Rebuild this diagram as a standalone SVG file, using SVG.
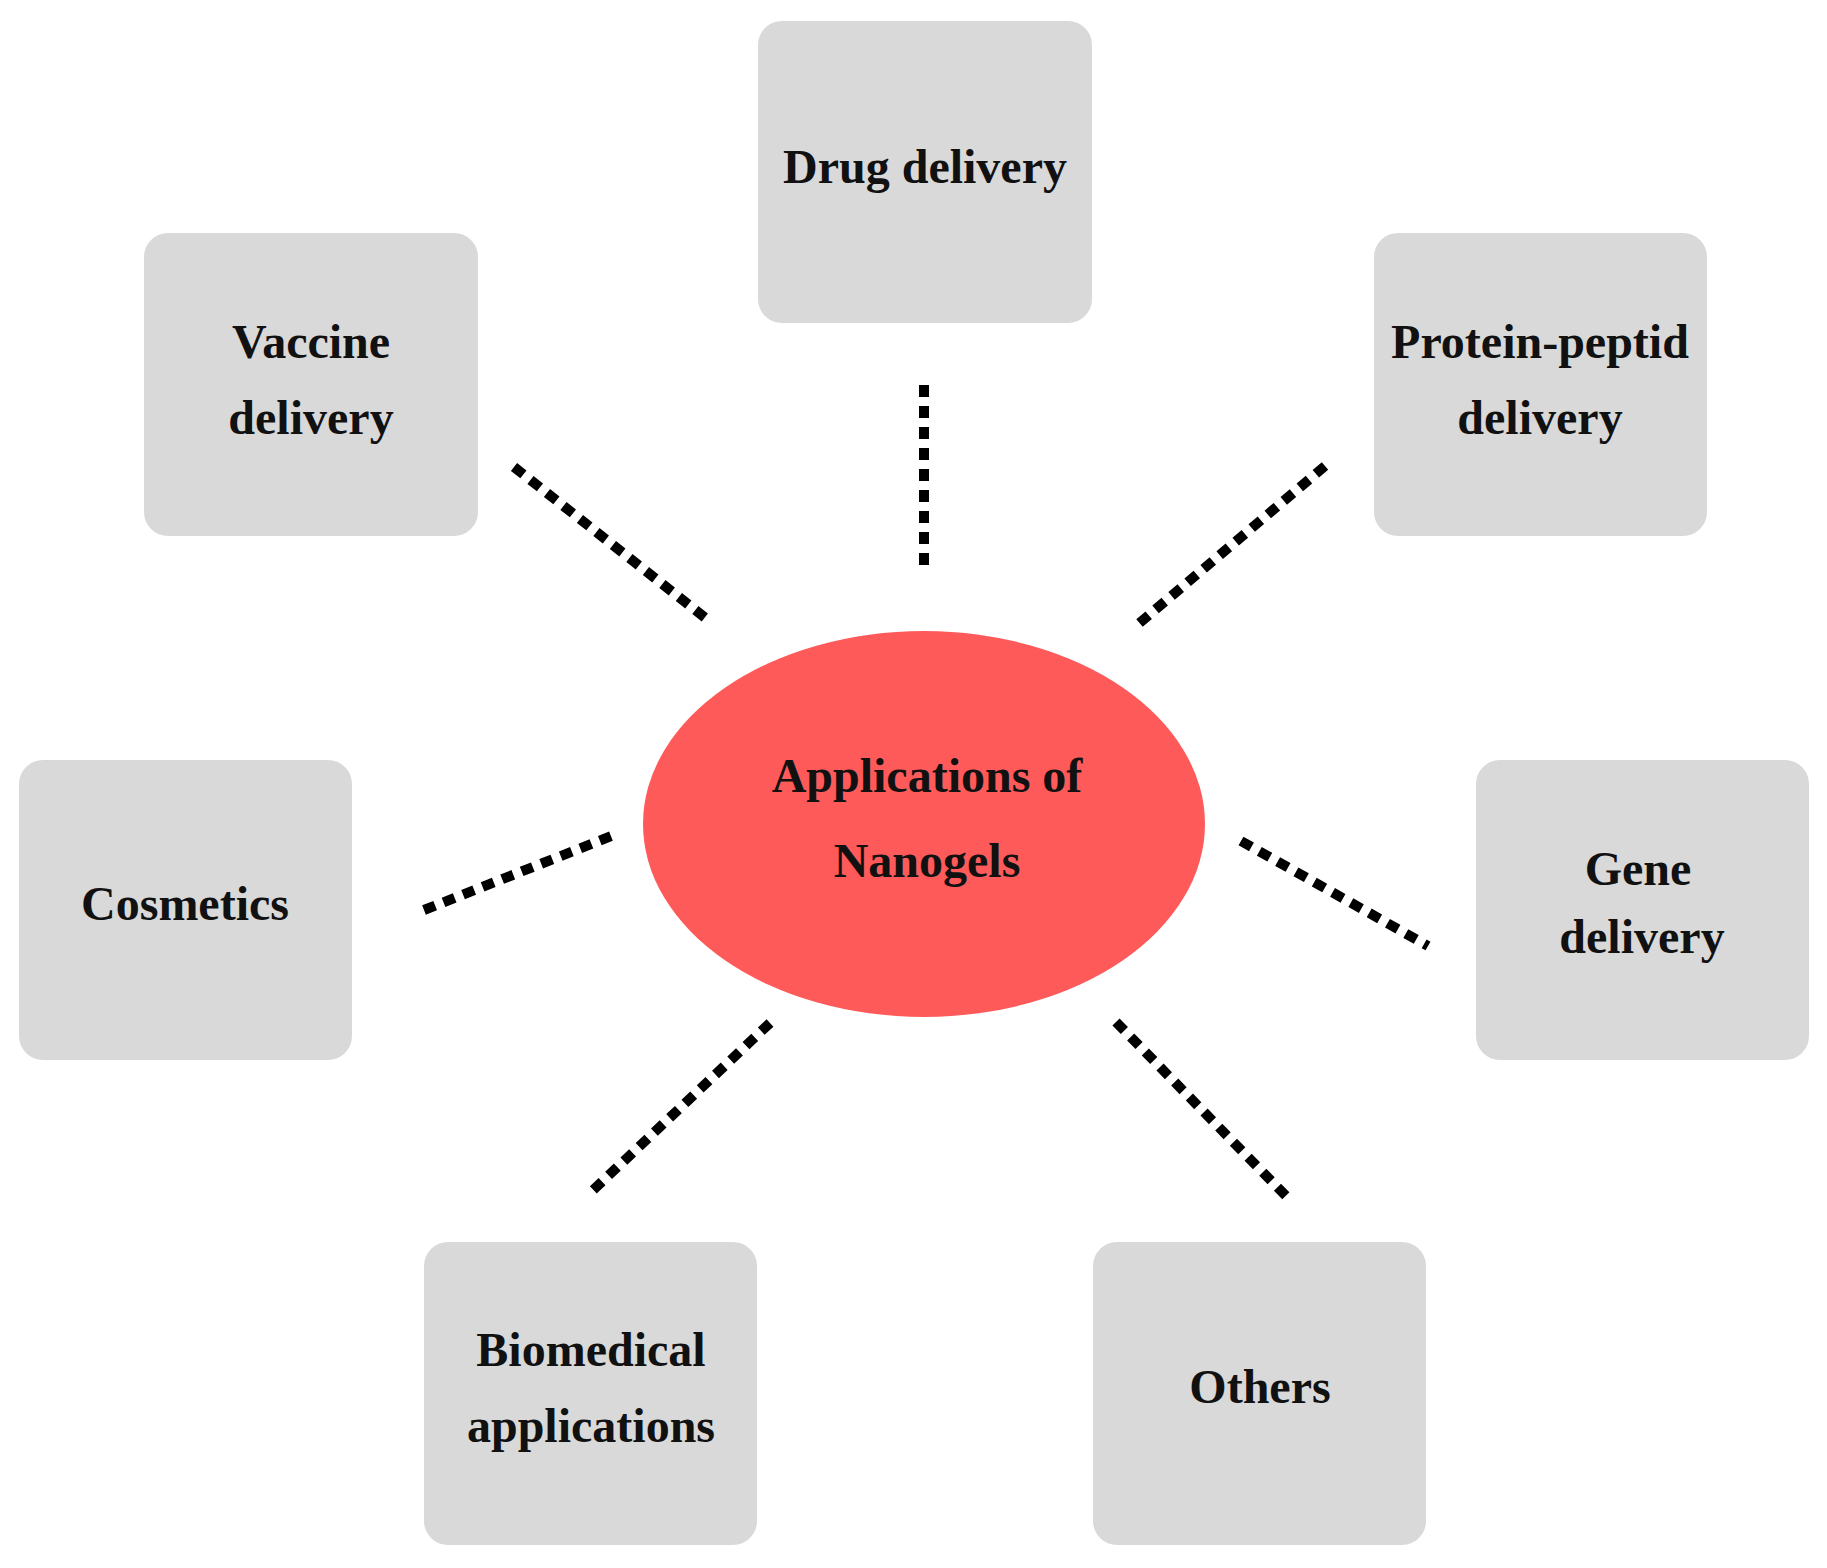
<svg xmlns="http://www.w3.org/2000/svg" width="1827" height="1568" viewBox="0 0 1827 1568">
<style>
.box{fill:#d9d9d9}
.t{font-family:"Liberation Serif",serif;font-weight:bold;font-size:48px;fill:#111;text-anchor:middle}
.c{stroke:#000;stroke-width:10;stroke-dasharray:12 9;fill:none}
</style>
<rect width="1827" height="1568" fill="#fff"/>
<g id="connectors">
<line class="c" x1="924" y1="385" x2="924" y2="573"/>
<line class="c" x1="514" y1="467" x2="708" y2="620"/>
<line class="c" x1="1325" y1="466" x2="1136" y2="626"/>
<line class="c" x1="424" y1="910" x2="614" y2="835"/>
<line class="c" x1="1241" y1="841" x2="1428" y2="946"/>
<line class="c" x1="770" y1="1023" x2="590" y2="1193"/>
<line class="c" x1="1116" y1="1022" x2="1289" y2="1199"/>
</g>
<g id="center"><ellipse cx="924" cy="824" rx="281" ry="193" fill="#fe5a5a"/>
<text class="t" x="927" y="792" font-size="56">Applications of</text>
<text class="t" x="927" y="877" font-size="56">Nanogels</text></g>
<g id="drug"><rect class="box" x="758" y="21" width="334" height="302" rx="24"/><text class="t" x="925" y="183">Drug delivery</text></g>
<g id="vaccine"><rect class="box" x="144" y="233" width="334" height="303" rx="24"/><text class="t" x="311" y="358">Vaccine</text><text class="t" x="311" y="434">delivery</text></g>
<g id="protein"><rect class="box" x="1374" y="233" width="333" height="303" rx="24"/><text class="t" x="1540" y="358">Protein-peptid</text><text class="t" x="1540" y="434">delivery</text></g>
<g id="cosmetics"><rect class="box" x="19" y="760" width="333" height="300" rx="24"/><text class="t" x="185" y="920">Cosmetics</text></g>
<g id="gene"><rect class="box" x="1476" y="760" width="333" height="300" rx="24"/><text class="t" x="1638" y="885" font-size="42">Gene</text><text class="t" x="1642" y="953" font-size="42">delivery</text></g>
<g id="biomedical"><rect class="box" x="424" y="1242" width="333" height="303" rx="24"/><text class="t" x="591" y="1366">Biomedical</text><text class="t" x="591" y="1442">applications</text></g>
<g id="others"><rect class="box" x="1093" y="1242" width="333" height="303" rx="24"/><text class="t" x="1260" y="1403">Others</text></g>
</svg>
